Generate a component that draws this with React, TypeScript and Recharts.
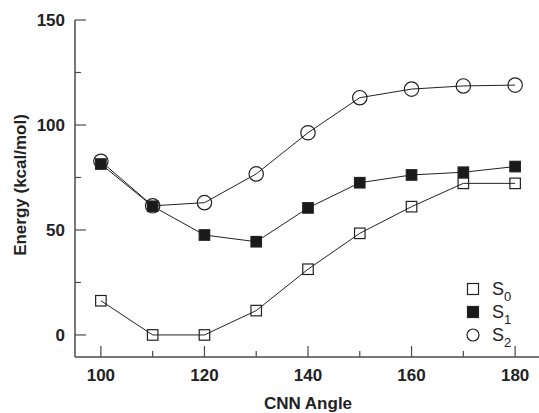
import React from 'react';
import { LineChart, Line, XAxis, YAxis } from 'recharts';

const angles = [100, 110, 120, 130, 140, 150, 160, 170, 180];
const s0 = [16.3, 0, 0, 11.6, 31.3, 48.4, 61.1, 72.2, 72.2];
const s1 = [81.4, 61.3, 47.6, 44.4, 60.5, 72.5, 76.2, 77.5, 80.2];
const s2 = [82.7, 61.5, 63.0, 76.7, 96.3, 113.0, 117.1, 118.6, 119.0];

const xTicks = [100, 110, 120, 130, 140, 150, 160, 170, 180];
const xLabels = [100, 120, 140, 160, 180];
const yTicks = [0, 25, 50, 75, 100, 125, 150];
const yLabels = [0, 50, 100, 150];

const data = angles.map((a, i) => ({ angle: a, s0: s0[i], s1: s1[i], s2: s2[i] }));

const INK = '#222';
const AXIS = '#4a4a4a';
const FONT = '"Liberation Sans", Arial, sans-serif';

type Marker = 'open-square' | 'filled-square' | 'open-circle';

const series: Array<{ key: string; name: string; sub: string; marker: Marker }> = [
  { key: 's2', name: 'S', sub: '2', marker: 'open-circle' },
  { key: 's0', name: 'S', sub: '0', marker: 'open-square' },
  { key: 's1', name: 'S', sub: '1', marker: 'filled-square' },
];

const legendOrder = ['s0', 's1', 's2'];

const drawMarker = (marker: Marker, cx: number, cy: number, key?: string, r = 7.2, s = 10.5) => {
  if (marker === 'open-circle') {
    return <circle key={key} cx={cx} cy={cy} r={r} fill="none" stroke={INK} strokeWidth={1.2} />;
  }
  return (
    <rect
      key={key}
      x={cx - s / 2}
      y={cy - s / 2}
      width={s}
      height={s}
      fill={marker === 'filled-square' ? '#1a1a1a' : 'none'}
      stroke={INK}
      strokeWidth={1.2}
    />
  );
};

const XTick = (props: any) => {
  const { x, y, payload } = props;
  const major = xLabels.includes(payload.value);
  return (
    <g>
      <line x1={x} x2={x} y1={y} y2={y - (major ? 11 : 6)} stroke={AXIS} strokeWidth={1.2} />
      {major && (
        <text x={x} y={y + 24} textAnchor="middle" fontFamily={FONT} fontWeight="bold" fontSize={17} fill={INK}>
          {payload.value}
        </text>
      )}
    </g>
  );
};

const YTick = (props: any) => {
  const { x, y, payload } = props;
  const major = yLabels.includes(payload.value);
  return (
    <g>
      <line x1={x} x2={x + (major ? 11 : 6)} y1={y} y2={y} stroke={AXIS} strokeWidth={1.2} />
      {major && (
        <text x={x - 10} y={y + 6} textAnchor="end" fontFamily={FONT} fontWeight="bold" fontSize={17} fill={INK}>
          {payload.value}
        </text>
      )}
    </g>
  );
};

const LegendBox = () => (
  <svg width={70} height={75} style={{ position: 'absolute', left: 464, top: 277 }}>
    {legendOrder.map((k, i) => {
      const s = series.find((d) => d.key === k)!;
      const cy = 12 + i * 23;
      return (
        <g key={k}>
          {drawMarker(s.marker, 9, cy, undefined, 6, 11)}
          <text x={28} y={cy + 6} fontFamily={FONT} fontSize={18} fill={INK}>
            {s.name}
            <tspan fontSize={13} dy={6}>{s.sub}</tspan>
          </text>
        </g>
      );
    })}
  </svg>
);

export default function App() {
  return (
    <div style={{ position: 'absolute', left: 0, top: 0, width: 539, height: 413, overflow: 'hidden', background: '#fff' }}>
      <LineChart width={541} height={413} data={data} margin={{ top: 20, right: 0, bottom: 0, left: 0 }}>
        <XAxis
          xAxisId="main"
          dataKey="angle"
          type="number"
          domain={[95, 185]}
          ticks={xTicks}
          height={56}
          tickSize={0}
          tickMargin={0}
          tickLine={false}
          tick={<XTick />}
          axisLine={{ stroke: AXIS, strokeWidth: 1.5 }}
          label={{
            value: 'CNN Angle',
            position: 'insideBottom',
            offset: 4,
            style: { fontFamily: FONT, fontWeight: 'bold', fontSize: 17, fill: INK },
          }}
        />
        <XAxis
          xAxisId="top"
          dataKey="angle"
          type="number"
          domain={[95, 185]}
          orientation="top"
          height={0}
          tick={false}
          tickLine={false}
          axisLine={{ stroke: AXIS, strokeWidth: 1.5 }}
        />
        <YAxis
          yAxisId="main"
          type="number"
          domain={[-10.5, 150]}
          ticks={yTicks}
          width={75}
          tickSize={0}
          tickMargin={0}
          tickLine={false}
          tick={<YTick />}
          axisLine={{ stroke: AXIS, strokeWidth: 1.5 }}
          allowDataOverflow
          label={{
            content: () => (
              <text
                x={20}
                y={185}
                transform="rotate(-90, 20, 185)"
                textAnchor="middle"
                dominantBaseline="central"
                fontFamily={FONT}
                fontWeight="bold"
                fontSize={17}
                fill={INK}
              >
                Energy (kcal/mol)
              </text>
            ),
          }}
        />
        {series.map((s) => (
          <Line
            key={s.key}
            xAxisId="main"
            yAxisId="main"
            dataKey={s.key}
            name={s.name + s.sub}
            type="linear"
            stroke={INK}
            strokeWidth={1}
            isAnimationActive={false}
            dot={(p: any) => drawMarker(s.marker, p.cx, p.cy, `${s.key}-${p.index}`)}
            activeDot={false}
          />
        ))}
      </LineChart>
      <LegendBox />
    </div>
  );
}
